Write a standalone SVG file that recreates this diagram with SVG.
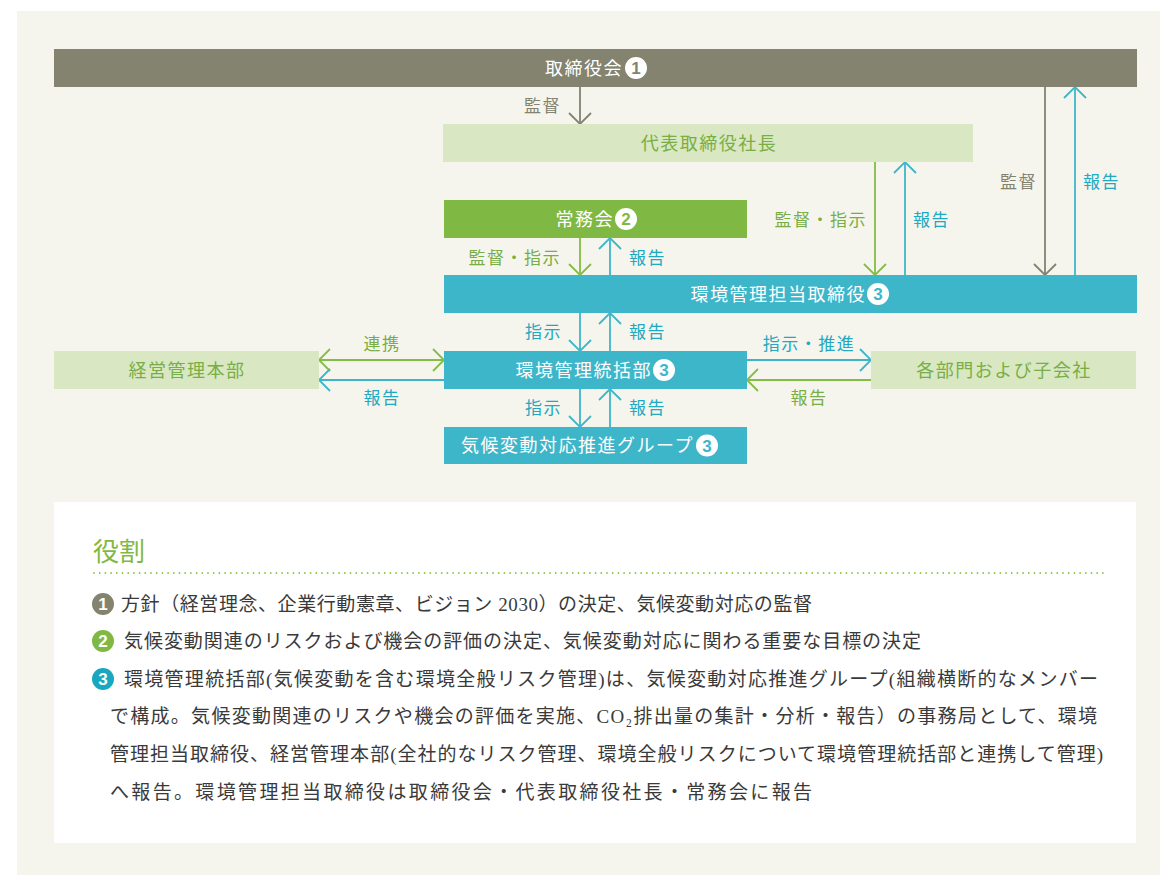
<svg xmlns="http://www.w3.org/2000/svg" width="1160" height="875" viewBox="0 0 1160 875">
  <defs>
    <style>
      .box-gray{fill:#838370}
      .box-green{fill:#7fb943}
      .box-light{fill:#d9e8c3}
      .box-cyan{fill:#3eb6ca}
      .nt{font-family:"Noto Sans CJK JP",sans-serif;font-size:18px;letter-spacing:1.5px;fill:#ffffff}
      .nt-g{font-family:"Noto Sans CJK JP",sans-serif;font-size:18px;letter-spacing:1.5px;fill:#78ae45}
      .lb{font-family:"Noto Sans CJK JP",sans-serif;font-size:17px;letter-spacing:1.5px}
      .lb-gray{fill:#838370}
      .lb-green{fill:#78ae45}
      .lb-cyan{fill:#20a9c1}
      .ln-gray{stroke:#838370;stroke-width:1.8;fill:none}
      .ln-green{stroke:#84bd45;stroke-width:1.8;fill:none}
      .ln-cyan{stroke:#3eb6ca;stroke-width:1.8;fill:none}
      .num{font-family:"Liberation Sans",sans-serif;font-size:17px;font-weight:bold;text-anchor:middle}
      .body{font-family:"Liberation Serif","Noto Sans CJK JP",serif;font-size:19px;fill:#3a3a3a}
    </style>
    <marker id="m-gray" viewBox="-12 -12 24 24" markerWidth="24" markerHeight="24" markerUnits="userSpaceOnUse" orient="auto-start-reverse" refX="0" refY="0">
      <path d="M-11,-11 L0,0 L-11,11" fill="none" stroke="#838370" stroke-width="1.8"/>
    </marker>
    <marker id="m-green" viewBox="-12 -12 24 24" markerWidth="24" markerHeight="24" markerUnits="userSpaceOnUse" orient="auto-start-reverse" refX="0" refY="0">
      <path d="M-11,-11 L0,0 L-11,11" fill="none" stroke="#84bd45" stroke-width="1.8"/>
    </marker>
    <marker id="m-cyan" viewBox="-12 -12 24 24" markerWidth="24" markerHeight="24" markerUnits="userSpaceOnUse" orient="auto-start-reverse" refX="0" refY="0">
      <path d="M-11,-11 L0,0 L-11,11" fill="none" stroke="#3eb6ca" stroke-width="1.8"/>
    </marker>
  </defs>

  <rect x="0" y="0" width="1160" height="875" fill="#ffffff"/>
  <rect x="17" y="11" width="1143" height="864" fill="#f6f5ed"/>

  <!-- connectors -->
  <g id="connectors">
    <line class="ln-gray" x1="580" y1="87" x2="580" y2="124" marker-end="url(#m-gray)"/>
    <line class="ln-green" x1="875" y1="162" x2="875" y2="275" marker-end="url(#m-green)"/>
    <line class="ln-cyan" x1="905" y1="275" x2="905" y2="162" marker-end="url(#m-cyan)"/>
    <line class="ln-gray" x1="1045" y1="87" x2="1045" y2="275" marker-end="url(#m-gray)"/>
    <line class="ln-cyan" x1="1075" y1="275" x2="1075" y2="87" marker-end="url(#m-cyan)"/>
    <line class="ln-green" x1="580" y1="238" x2="580" y2="275" marker-end="url(#m-green)"/>
    <line class="ln-cyan" x1="610" y1="275" x2="610" y2="238" marker-end="url(#m-cyan)"/>
    <line class="ln-cyan" x1="580" y1="313" x2="580" y2="351" marker-end="url(#m-cyan)"/>
    <line class="ln-cyan" x1="610" y1="351" x2="610" y2="313" marker-end="url(#m-cyan)"/>
    <line class="ln-cyan" x1="580" y1="389" x2="580" y2="427" marker-end="url(#m-cyan)"/>
    <line class="ln-cyan" x1="610" y1="427" x2="610" y2="389" marker-end="url(#m-cyan)"/>
    <line class="ln-green" x1="319" y1="360" x2="444" y2="360" marker-start="url(#m-green)" marker-end="url(#m-green)"/>
    <line class="ln-cyan" x1="444" y1="380" x2="319" y2="380" marker-end="url(#m-cyan)"/>
    <line class="ln-cyan" x1="747" y1="360" x2="871" y2="360" marker-end="url(#m-cyan)"/>
    <line class="ln-green" x1="871" y1="380" x2="747" y2="380" marker-end="url(#m-green)"/>

    <text class="lb lb-gray" x="561" y="112" text-anchor="end">監督</text>
    <text class="lb lb-green" x="867" y="226" text-anchor="end">監督・指示</text>
    <text class="lb lb-cyan" x="913" y="226">報告</text>
    <text class="lb lb-gray" x="1037" y="188" text-anchor="end">監督</text>
    <text class="lb lb-cyan" x="1083" y="188">報告</text>
    <text class="lb lb-green" x="561" y="264" text-anchor="end">監督・指示</text>
    <text class="lb lb-cyan" x="629" y="264">報告</text>
    <text class="lb lb-cyan" x="562" y="338" text-anchor="end">指示</text>
    <text class="lb lb-cyan" x="629" y="338">報告</text>
    <text class="lb lb-cyan" x="562" y="414" text-anchor="end">指示</text>
    <text class="lb lb-cyan" x="629" y="414">報告</text>
    <text class="lb lb-green" x="382" y="350" text-anchor="middle">連携</text>
    <text class="lb lb-cyan" x="382" y="404" text-anchor="middle">報告</text>
    <text class="lb lb-cyan" x="809" y="350" text-anchor="middle">指示・推進</text>
    <text class="lb lb-green" x="809" y="404" text-anchor="middle">報告</text>
  </g>

  <!-- nodes -->
  <g id="node-board">
    <rect class="box-gray" x="54" y="49" width="1083" height="38"/>
    <text class="nt" x="623" y="75" text-anchor="end">取締役会</text>
    <circle cx="636" cy="68" r="11" fill="#ffffff"/>
    <text class="num" x="636" y="74" fill="#838370">1</text>
  </g>
  <g id="node-president">
    <rect class="box-light" x="443" y="124" width="530" height="38"/>
    <text class="nt-g" x="709" y="150" text-anchor="middle">代表取締役社長</text>
  </g>
  <g id="node-executive">
    <rect class="box-green" x="444" y="200" width="303" height="38"/>
    <text class="nt" x="614" y="226" text-anchor="end">常務会</text>
    <circle cx="626" cy="219" r="11" fill="#ffffff"/>
    <text class="num" x="626" y="225" fill="#7fb943">2</text>
  </g>
  <g id="node-env-director">
    <rect class="box-cyan" x="444" y="275" width="693" height="38"/>
    <text class="nt" x="866" y="301" text-anchor="end">環境管理担当取締役</text>
    <circle cx="878" cy="294" r="11" fill="#ffffff"/>
    <text class="num" x="878" y="300" fill="#3eb6ca">3</text>
  </g>
  <g id="node-env-dept">
    <rect class="box-cyan" x="444" y="351" width="303" height="38"/>
    <text class="nt" x="652" y="377" text-anchor="end">環境管理統括部</text>
    <circle cx="664" cy="370" r="11" fill="#ffffff"/>
    <text class="num" x="664" y="376" fill="#3eb6ca">3</text>
  </g>
  <g id="node-climate-group">
    <rect class="box-cyan" x="444" y="427" width="303" height="37"/>
    <text class="nt" x="694" y="452" text-anchor="end">気候変動対応推進グループ</text>
    <circle cx="707" cy="445.5" r="11" fill="#ffffff"/>
    <text class="num" x="707" y="451.5" fill="#3eb6ca">3</text>
  </g>
  <g id="node-management">
    <rect class="box-light" x="54" y="351" width="265" height="38"/>
    <text class="nt-g" x="187" y="377" text-anchor="middle">経営管理本部</text>
  </g>
  <g id="node-divisions">
    <rect class="box-light" x="871" y="351" width="265" height="38"/>
    <text class="nt-g" x="1004" y="377" text-anchor="middle">各部門および子会社</text>
  </g>

  <!-- roles panel -->
  <g id="roles">
    <rect x="54" y="502" width="1082" height="341" fill="#ffffff"/>
    <text x="93" y="561" font-family="Noto Sans CJK JP, sans-serif" font-size="26" fill="#7fb943">役割</text>
    <line x1="94" y1="573" x2="1103" y2="573" stroke="#8cc63f" stroke-width="1.8" stroke-linecap="round" stroke-dasharray="0 5.7"/>

    <circle cx="103" cy="604" r="11" fill="#838370"/>
    <text class="num" x="103" y="610" fill="#ffffff">1</text>
    <text class="body" x="121" y="611" textLength="691" lengthAdjust="spacing">方針（経営理念、企業行動憲章、ビジョン 2030）の決定、気候変動対応の監督</text>

    <circle cx="103" cy="641" r="11" fill="#7fb943"/>
    <text class="num" x="103" y="647" fill="#ffffff">2</text>
    <text class="body" x="124" y="648" textLength="797" lengthAdjust="spacing">気候変動関連のリスクおよび機会の評価の決定、気候変動対応に関わる重要な目標の決定</text>

    <circle cx="103" cy="679" r="11" fill="#19a7c0"/>
    <text class="num" x="103" y="685" fill="#ffffff">3</text>
    <text class="body" x="124" y="686" textLength="974" lengthAdjust="spacing">環境管理統括部(気候変動を含む環境全般リスク管理)は、気候変動対応推進グループ(組織横断的なメンバー</text>
    <text class="body" x="110" y="723" textLength="987" lengthAdjust="spacing">で構成。気候変動関連のリスクや機会の評価を実施、CO₂排出量の集計・分析・報告）の事務局として、環境</text>
    <text class="body" x="110" y="761" textLength="993" lengthAdjust="spacing">管理担当取締役、経営管理本部(全社的なリスク管理、環境全般リスクについて環境管理統括部と連携して管理)</text>
    <text class="body" x="110" y="799" textLength="702" lengthAdjust="spacing">へ報告。環境管理担当取締役は取締役会・代表取締役社長・常務会に報告</text>
  </g>
</svg>
